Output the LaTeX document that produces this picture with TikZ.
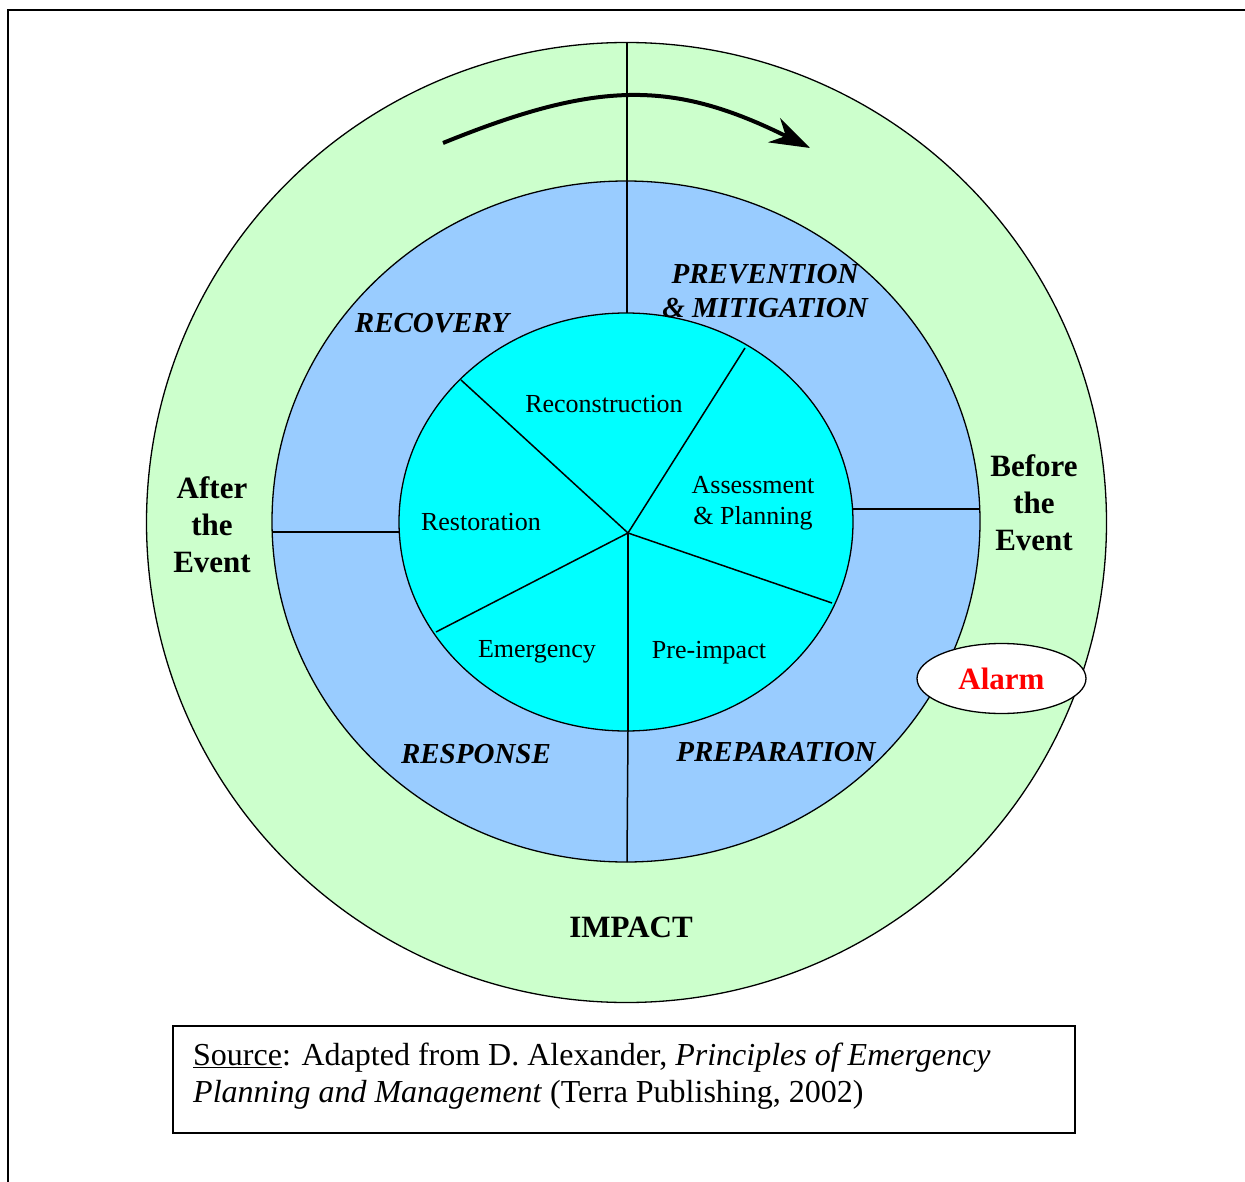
\documentclass[tikz,border=0pt]{standalone}
\usepackage{fontspec}
\setmainfont{Liberation Serif}
\usetikzlibrary{arrows.meta,shapes.geometric}
\definecolor{ringgreen}{HTML}{CCFFCC}
\definecolor{ringblue}{HTML}{99CCFF}
\definecolor{corecyan}{HTML}{00FFFF}
\definecolor{alarmred}{HTML}{FF0000}
\begin{document}
\begin{tikzpicture}[x=1pt,y=-1pt,
  ring/.style={draw=black,line width=1.3pt},
  spoke/.style={draw=black,line width=1.5pt},
  phase/.style={font=\fontsize{29}{34}\selectfont\bfseries\itshape,inner sep=0,align=center},
  sub/.style={font=\fontsize{26}{31}\selectfont,inner sep=0,align=center},
  when/.style={font=\fontsize{31}{37}\selectfont\bfseries,inner sep=0,align=center},
  srctext/.style={font=\fontsize{32}{37}\selectfont,inner sep=0,anchor=base west}]
\useasboundingbox (0,0) rectangle (1245,1182);
% page frame
\draw[line width=1.5pt] (8,1182) -- (8,10) -- (1245,10);
% rings
\coordinate (oc) at (626.5,522.5);
\coordinate (mc) at (626,521.5);
\coordinate (ic) at (626,522);
\draw[ring,fill=ringgreen] (oc) circle [radius=480pt];
\draw[ring,fill=ringblue] (mc) ellipse [x radius=354pt, y radius=340.5pt];
\draw[ring,fill=corecyan] (ic) ellipse [x radius=227pt, y radius=209pt];
% divisions
\coordinate (pc) at (628,533);
\coordinate (s1) at (461,380);
\coordinate (s2) at (745,348);
\coordinate (s3) at (832,603);
\coordinate (s4) at (628,731);
\coordinate (s5) at (436,632);
\foreach \s in {s1,s2,s3,s4,s5} \draw[spoke] (pc) -- (\s);
\coordinate (vt1) at (627,42);
\coordinate (vt2) at (627,313);
\coordinate (vb2) at (627,862);
\coordinate (hl1) at (272,532);
\coordinate (hl2) at (399,532);
\coordinate (hr1) at (853,509);
\coordinate (hr2) at (980,509);
\draw[spoke] (vt1) -- (vt2);
\draw[spoke] (s4) -- (vb2);
\draw[spoke] (hl1) -- (hl2);
\draw[spoke] (hr1) -- (hr2);
% cycle arrow
\coordinate (a0) at (443,143);
\coordinate (a1) at (810,148);
\draw[line width=4pt,-{Stealth[length=40pt,width=27pt,inset=13pt]}] (a0) .. controls (598,80) and (673,80) .. (a1);
% phase labels
\node[phase] (prev) at (765,291) {PREVENTION\\\& MITIGATION};
\node[phase] (reco) at (432,323) {RECOVERY};
\node[phase] (resp) at (476,754) {RESPONSE};
\node[phase] (prep) at (776,752) {PREPARATION};
% sub labels
\node[sub] (recon) at (604,404) {Reconstruction};
\node[sub] (assess) at (753,503) {Assessment\\\& Planning};
\node[sub] (resto) at (481,522) {Restoration};
\node[sub] (emerg) at (537,652) {Emergency};
\node[sub] (preimp) at (709,653) {Pre-impact};
% time labels
\node[when] (after) at (212,525) {After\\the\\Event};
\node[when] (before) at (1034,503) {Before\\the\\Event};
\node[when] (impact) at (631,927) {IMPACT};
% alarm
\node[draw=black,line width=1.3pt,fill=white,ellipse,minimum width=169pt,minimum height=70pt,inner sep=0,
  font=\fontsize{31}{37}\selectfont\bfseries,text=alarmred] (alarm) at (1001.5,678.5) {Alarm};
% source box
\node[draw=black,line width=1.5pt,minimum width=902pt,minimum height=107pt,anchor=north west,inner sep=0] (srcbox) at (172,1025) {};
\node[srctext] (src1) at (193,1065) {\underline{Source}: Adapted from D. Alexander, \textit{Principles of Emergency}};
\node[srctext] (src2) at (193,1102) {\textit{Planning and Management} (Terra Publishing, 2002)};
\end{tikzpicture}
\end{document}
